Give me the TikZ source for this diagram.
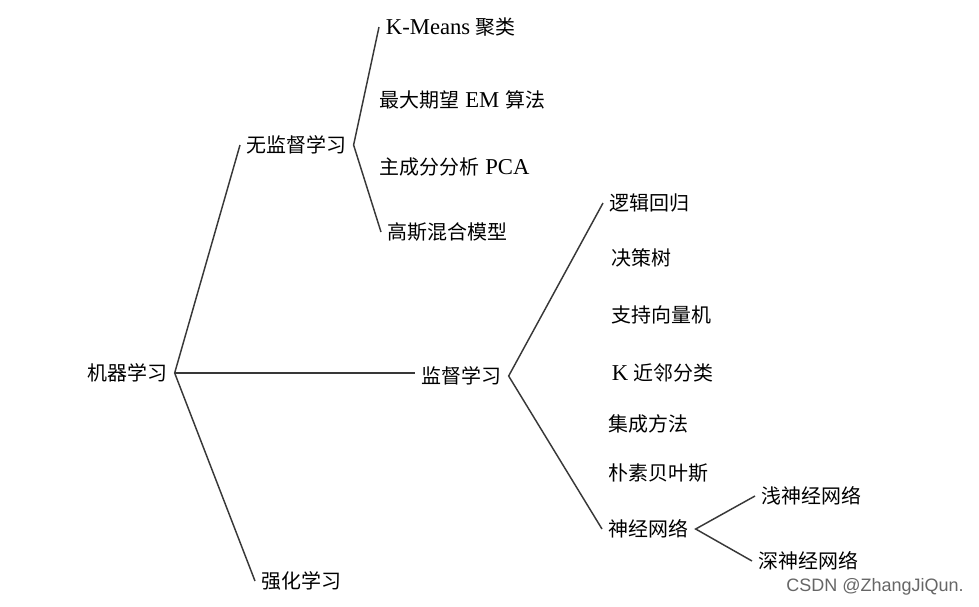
\documentclass[tikz,border=0pt]{standalone}
\usepackage{fontspec}
\setmainfont{Liberation Serif}
\newfontfamily\cjk[Scale=0.88]{Noto Sans CJK SC}
\newfontfamily\wmfont{Liberation Sans}
\usepackage{tikz}

\begin{document}
\begin{tikzpicture}[x=0.75pt,y=-0.75pt,
  item/.style={anchor=west,inner xsep=5pt,inner ysep=2pt,font=\fontsize{17}{20}\selectfont},
  branch/.style={line width=1.1pt,black!78}]
  \useasboundingbox (0,0) rectangle (979,607);
  % root and first level
  \node[item] (ml) at (81,373) {\cjk 机器学习};
  \node[item] (unsup) at (240,145) {\cjk 无监督学习};
  \node[item] (sup) at (415,376) {\cjk 监督学习};
  \node[item] (rl) at (255,581) {\cjk 强化学习};
  % unsupervised methods
  \node[item] (kmeans) at (379,27) {K-Means {\cjk 聚类}};
  \node[item] (em) at (373,100) {{\cjk 最大期望} EM {\cjk 算法}};
  \node[item] (pca) at (373,167) {{\cjk 主成分分析} PCA};
  \node[item] (gmm) at (381,232) {\cjk 高斯混合模型};
  % supervised methods
  \node[item] (lr) at (603,203) {\cjk 逻辑回归};
  \node[item] (dt) at (605,258) {\cjk 决策树};
  \node[item] (svm) at (605,315) {\cjk 支持向量机};
  \node[item] (knn) at (605,373) {K {\cjk 近邻分类}};
  \node[item] (ens) at (602,424) {\cjk 集成方法};
  \node[item] (nb) at (602,473) {\cjk 朴素贝叶斯};
  \node[item] (nn) at (602,529) {\cjk 神经网络};
  \node[item] (snn) at (755,496) {\cjk 浅神经网络};
  \node[item] (dnn) at (752,561) {\cjk 深神经网络};
  \node[anchor=west,inner sep=0pt,text=black!60,font=\wmfont\fontsize{13.5}{16}\selectfont] (mark) at (786,587) {CSDN @ZhangJiQun.};

  \draw[branch] (unsup.west) -- (ml.east) -- (rl.west);
  \draw[branch] (ml.east) -- (ml.east -| sup.west);
  \draw[branch] (kmeans.west) -- (unsup.east) -- (gmm.west);
  \draw[branch] (lr.west) -- (sup.east) -- (nn.west);
  \draw[branch] (snn.west) -- (nn.east) -- (dnn.west);
\end{tikzpicture}
\end{document}
